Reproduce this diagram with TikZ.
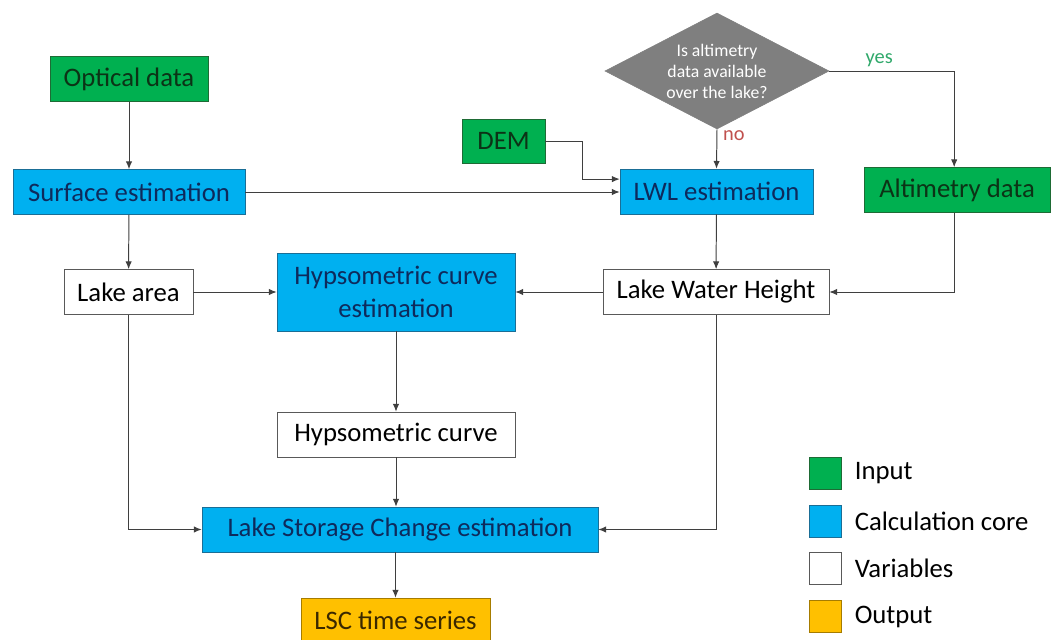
\documentclass[tikz,border=0pt]{standalone}
\usepackage{fontspec}
\setmainfont{Carlito}
\usepackage{tikz}
\usepackage{xcolor}
\usetikzlibrary{arrows.meta,positioning,calc,shapes.geometric}
\definecolor{InGreen}{HTML}{00B050}
\definecolor{InEdge}{HTML}{1E6B35}
\definecolor{InText}{HTML}{0C3316}
\definecolor{CoreBlue}{HTML}{00B0F0}
\definecolor{CoreEdge}{HTML}{1A6E96}
\definecolor{CoreText}{HTML}{0E2A5C}
\definecolor{OutGold}{HTML}{FFC000}
\definecolor{OutEdge}{HTML}{A67C00}
\definecolor{OutText}{HTML}{3A2800}
\definecolor{VarEdge}{HTML}{595959}
\definecolor{AskGray}{HTML}{7F7F7F}
\definecolor{Wire}{HTML}{3F3F3F}
\definecolor{YesGreen}{HTML}{2FA86A}
\definecolor{NoRed}{HTML}{C0504D}

\begin{document}
\begin{tikzpicture}[x=0.025cm,y=-0.025cm,
  every node/.style={font=\fontsize{19}{23.4}\selectfont,align=center,inner sep=0pt},
  input/.style={draw=InEdge,fill=InGreen,text=InText,minimum height=1.125cm},
  core/.style={draw=CoreEdge,fill=CoreBlue,text=CoreText,minimum height=1.125cm},
  var/.style={draw=VarEdge,fill=white,text=black,minimum height=1.125cm},
  result/.style={draw=OutEdge,fill=OutGold,text=OutText,minimum height=1.125cm},
  legbox/.style={minimum width=0.8cm,minimum height=0.8cm},
  arr/.style={-{Latex[length=5.5pt,width=4.5pt]},line width=0.7pt,Wire}]
  \useasboundingbox (0,0) rectangle (1053,639);

  % boxes
  \node[input,minimum width=3.95cm] (optical) at (129,79) {Optical data};
  \node[core,minimum width=5.8cm] (surface) at (129,192) {Surface estimation};
  \node[var,minimum width=3.225cm] (area) at (128.5,292) {Lake area};
  \node[core,minimum width=5.95cm,minimum height=1.95cm] (hce) at (396,292) {Hypsometric curve\\estimation};
  \node[input,minimum width=2.075cm,minimum height=1.1cm] (dem) at (503.5,141) {DEM};
  \node[diamond,draw=AskGray,fill=AskGray,text=white,aspect=1.93,minimum width=5.6cm,minimum height=2.9cm,
        font=\fontsize{12.6}{14.9}\selectfont] (ask) at (717,71) {Is altimetry\\data available\\over the lake?};
  \node[core,minimum width=4.825cm] (lwl) at (716.5,191.5) {LWL estimation};
  \node[input,minimum width=4.65cm] (altim) at (957,190) {Altimetry data};
  \node[var,minimum width=5.65cm] (lwh) at (716,292) {Lake Water Height};
  \node[var,minimum width=5.95cm] (hc) at (396,434.5) {Hypsometric curve};
  \node[core,minimum width=9.9cm] (lsc) at (400,529.5) {Lake Storage Change estimation};
  \node[result,minimum width=4.725cm] (series) at (395.5,620.5) {LSC time series};

  % connectors
  \draw[arr] (optical) -- (surface);
  \draw[arr] (surface) -- (area);
  \draw[arr] (surface) -- (surface -| lwl.west);
  \draw[arr] (dem.east) -- ++(37,0) |- ([yshift=0.31cm]lwl.west);
  \draw[arr] (ask.south) -- node[pos=0.15,right=4pt,text=NoRed,font=\fontsize{14.5}{16}\selectfont]{no} (lwl.north);
  \draw[arr] (ask.east) -| node[pos=0.2,above=3pt,text=YesGreen,font=\fontsize{14.5}{16}\selectfont]{yes} ([xshift=-2]altim.north);
  \draw[arr] ([xshift=-2]altim.south) |- (lwh.east);
  \draw[arr] (lwl) -- (lwh);
  \draw[arr] (lwh) -- (hce);
  \draw[arr] (area) -- (hce);
  \draw[arr] (hce) -- (hc);
  \draw[arr] (hc) -- (hc |- lsc.north);
  \draw[arr] (area) |- (lsc);
  \draw[arr] (lwh) |- (lsc);
  \draw[arr] (lsc.south -| series) -- (series);

  % legend
  \node[legbox,draw=InEdge,fill=InGreen] (keyin) at (825,473.5) {};
  \node[legbox,draw=CoreEdge,fill=CoreBlue] (keycore) at (825,521) {};
  \node[legbox,draw=VarEdge,fill=white] (keyvar) at (825,568.5) {};
  \node[legbox,draw=OutEdge,fill=OutGold] (keyout) at (825,616.5) {};
  \node[right=0.33cm of keyin] (txtin) {Input};
  \node[right=0.33cm of keycore] (txtcore) {Calculation core};
  \node[right=0.33cm of keyvar] (txtvar) {Variables};
  \node[right=0.33cm of keyout] (txtout) {Output};
\end{tikzpicture}
\end{document}
